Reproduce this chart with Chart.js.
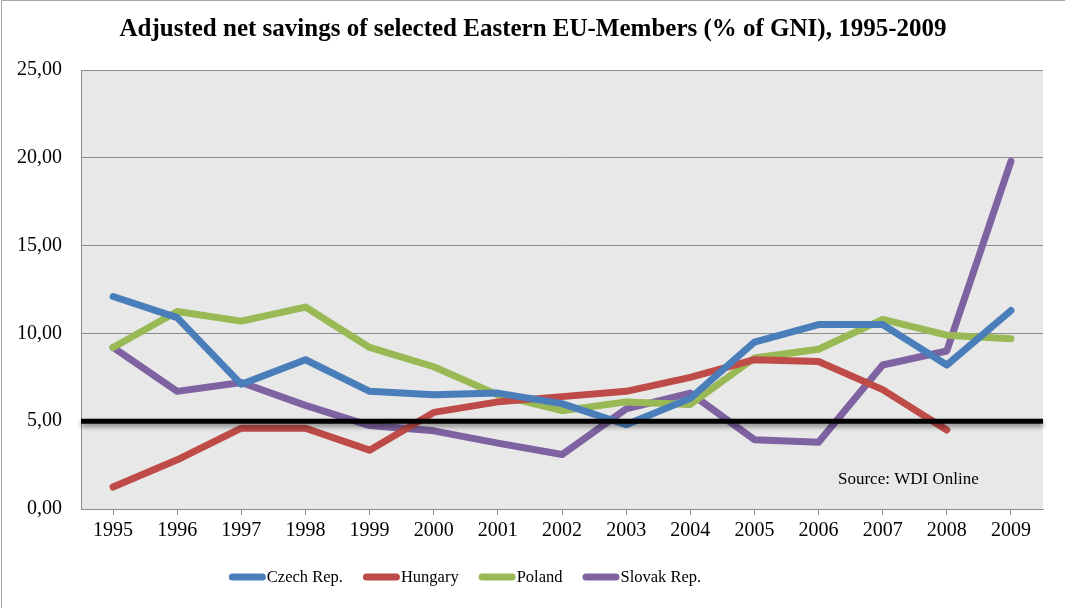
<!DOCTYPE html>
<html>
<head>
<meta charset="utf-8">
<script src="https://cdn.jsdelivr.net/npm/chart.js@4"></script>
<style>
  html, body { margin: 0; padding: 0; background: #fff; }
  #wrap { width: 1065px; height: 608px; position: relative; }
</style>
</head>
<body>
<div id="wrap"><canvas id="chart-savings"></canvas></div>
<script>
const years = ['1995', '1996', '1997', '1998', '1999', '2000', '2001', '2002',
               '2003', '2004', '2005', '2006', '2007', '2008', '2009'];
const czech   = [12.1, 10.9, 7.1, 8.5, 6.7, 6.5, 6.6, 6.0, 4.8, 6.3, 9.5, 10.5, 10.5, 8.2, 11.3];
const hungary = [1.25, 2.8, 4.6, 4.6, 3.35, 5.5, 6.1, 6.4, 6.7, 7.5, 8.5, 8.4, 6.8, 4.5, null];
const poland  = [9.2, 11.25, 10.7, 11.5, 9.2, 8.1, 6.5, 5.6, 6.1, 5.95, 8.6, 9.1, 10.8, 9.9, 9.7];
const slovak  = [9.2, 6.7, 7.2, 5.9, 4.75, 4.45, 3.75, 3.1, 5.7, 6.6, 3.95, 3.8, 8.2, 9.0, 19.8];
const yTicks = [0, 5, 10, 15, 20, 25];
const thresholdValue = 5;

const chartTitle = 'Adjusted net savings of selected Eastern EU-Members (% of GNI), 1995-2009';
const serif = '"Liberation Serif", "Times New Roman", serif';

// white page with a thin frame on the left and top, grey plot area, title
const frame = {
    id: 'frame',
    beforeDraw(chart) {
        const ctx = chart.ctx;
        ctx.save();
        ctx.fillStyle = '#fff';
        ctx.fillRect(0, 0, chart.width, chart.height);
        ctx.strokeStyle = '#a6a6a6';
        ctx.lineWidth = 1;
        ctx.beginPath();
        ctx.moveTo(1.5, chart.height);
        ctx.lineTo(1.5, 0.5);
        ctx.lineTo(chart.width, 0.5);
        ctx.stroke();
        const a = chart.chartArea;
        ctx.fillStyle = '#e8e8e8';
        ctx.fillRect(a.left, a.top, a.right - a.left, a.bottom - a.top);

        ctx.fillStyle = '#000';
        ctx.font = 'bold 25px ' + serif;
        ctx.textAlign = 'center';
        ctx.textBaseline = 'middle';
        ctx.fillText(chartTitle, 533, 30);
        ctx.restore();
    },
};

// heavy black reference line with a soft drop shadow, plus the source note
const threshold = {
    id: 'threshold',
    afterDatasetsDraw(chart) {
        const ctx = chart.ctx;
        const a = chart.chartArea;
        const y = chart.scales.y.getPixelForValue(thresholdValue);
        ctx.save();
        ctx.shadowColor = 'rgba(0,0,0,0.45)';
        ctx.shadowBlur = 5;
        ctx.shadowOffsetY = 3;
        ctx.strokeStyle = '#000';
        ctx.lineWidth = 5;
        ctx.beginPath();
        ctx.moveTo(a.left, y);
        ctx.lineTo(a.right, y);
        ctx.stroke();
        ctx.restore();

        ctx.save();
        ctx.font = '17px ' + serif;
        ctx.fillStyle = '#000';
        ctx.textBaseline = 'middle';
        ctx.fillText('Source: WDI Online', a.right - 205, a.bottom - 29);
        ctx.restore();
    },
};

// legend: long rounded swatches with the label right next to them
const lineLegend = {
    id: 'lineLegend',
    afterDraw(chart) {
        const ctx = chart.ctx;
        ctx.save();
        ctx.font = '16.5px ' + serif;
        ctx.textBaseline = 'middle';
        const swatch = 37, gap = 1, spacing = 20;
        const items = chart.data.datasets.map(ds => ({
            text: ds.label, color: ds.borderColor, w: ctx.measureText(ds.label).width,
        }));
        const total = items.reduce((s, it) => s + swatch + gap + it.w, 0) + spacing * (items.length - 1);
        let x = 465 - total / 2;
        const y = 577;
        items.forEach(it => {
            ctx.strokeStyle = it.color;
            ctx.lineWidth = 7;
            ctx.lineCap = 'round';
            ctx.beginPath();
            ctx.moveTo(x + 3.5, y);
            ctx.lineTo(x + swatch - 3.5, y);
            ctx.stroke();
            ctx.fillStyle = '#000';
            ctx.fillText(it.text, x + swatch + gap, y + 1);
            x += swatch + gap + it.w + spacing;
        });
        ctx.restore();
    },
};

const series = [
    { label: 'Czech Rep.',  data: czech,   color: '#4a7ebb' },
    { label: 'Hungary',     data: hungary, color: '#be4b48' },
    { label: 'Poland',      data: poland,  color: '#98b954' },
    { label: 'Slovak Rep.', data: slovak,  color: '#7e62a1' },
];

new Chart(document.getElementById('chart-savings'), {
    type: 'line',
    data: {
        labels: years,
        datasets: series.map(s => ({
            label: s.label,
            data: s.data,
            borderColor: s.color,
            backgroundColor: s.color,
            borderWidth: 7,
            borderCapStyle: 'round',
            borderJoinStyle: 'round',
            pointRadius: 0,
            tension: 0,
        })),
    },
    options: {
        responsive: true,
        maintainAspectRatio: false,
        animation: false,
        layout: { padding: { left: 0, right: 22, top: 70, bottom: 59 } },
        plugins: {
            title: { display: false },
            legend: { display: false },
            tooltip: { enabled: false },
        },
        scales: {
            x: {
                offset: true,
                grid: {
                    offset: false,
                    drawOnChartArea: false,
                    drawTicks: true,
                    tickLength: 6,
                    color: '#8c8c8c',
                },
                border: { color: '#8c8c8c' },
                ticks: {
                    color: '#000',
                    font: { family: serif, size: 20 },
                    padding: 4,
                    maxRotation: 0,
                },
                afterFit(scale) { scale.height = 40; },
            },
            y: {
                min: 0,
                max: 25,
                afterBuildTicks(scale) { scale.ticks = yTicks.map(v => ({ value: v })); },
                grid: { color: '#8c8c8c', drawTicks: false },
                border: { color: '#8c8c8c' },
                ticks: {
                    color: '#000',
                    font: { family: serif, size: 20 },
                    padding: 19,
                    callback: v => v.toFixed(2).replace('.', ','),
                },
                afterFit(scale) { scale.width = 81; },
            },
        },
    },
    plugins: [frame, threshold, lineLegend],
});
</script>
</body>
</html>
